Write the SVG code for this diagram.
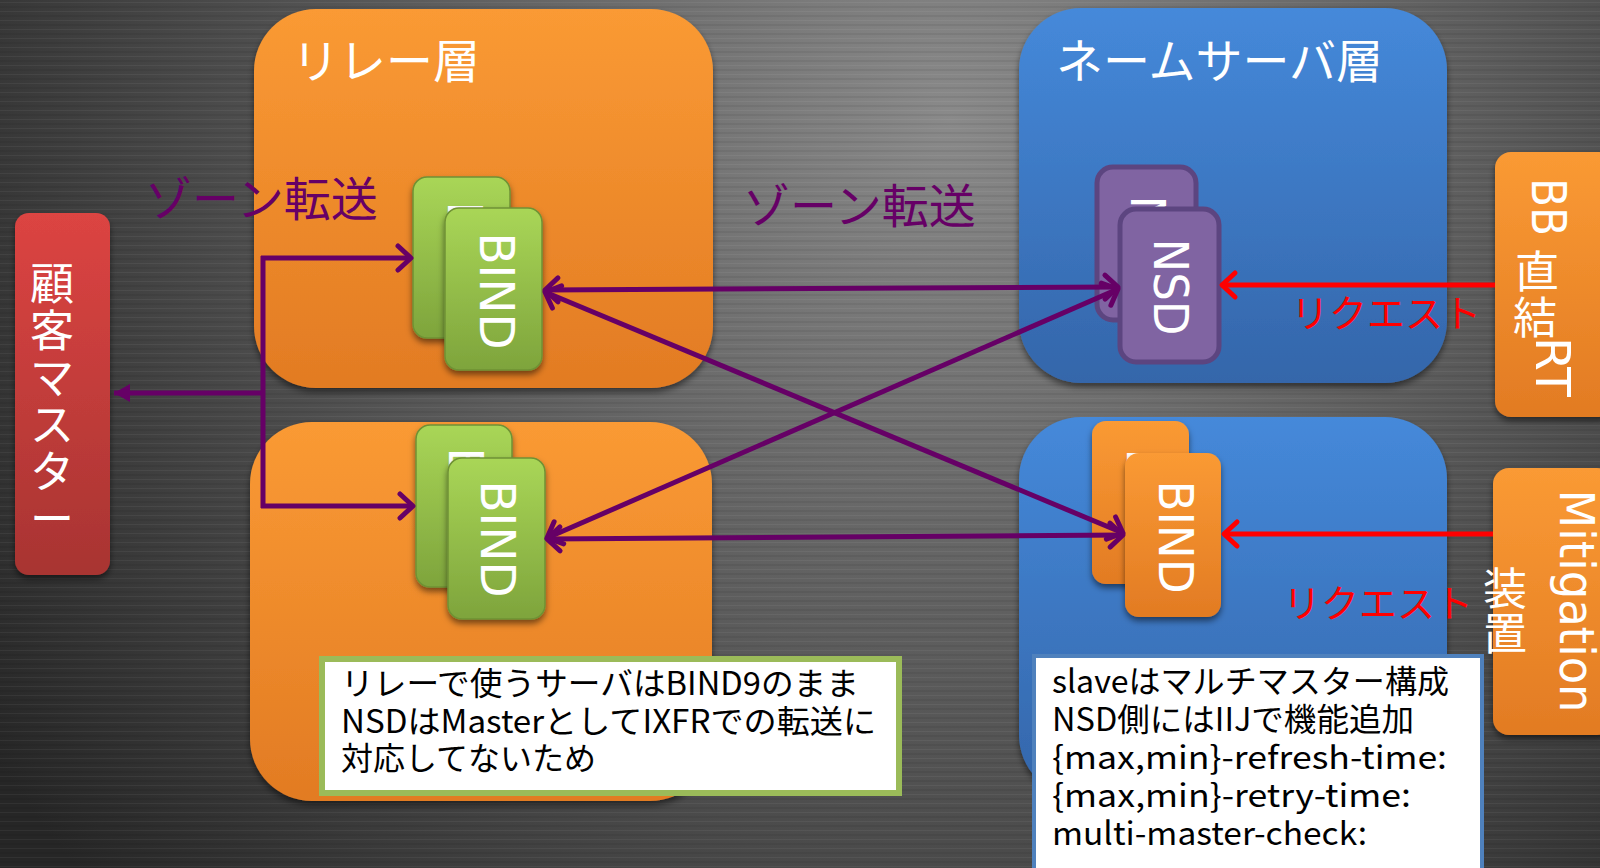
<svg xmlns="http://www.w3.org/2000/svg" width="1600" height="868" viewBox="0 0 1600 868">
<defs>
  <radialGradient id="bg" cx="950" cy="120" r="1150" gradientUnits="userSpaceOnUse">
    <stop offset="0" stop-color="#8a8a8a"/>
    <stop offset="0.45" stop-color="#5e5e5e"/>
    <stop offset="1" stop-color="#262626"/>
  </radialGradient>
  <pattern id="brush" width="400" height="9" patternUnits="userSpaceOnUse">
    <rect x="0" y="2" width="400" height="1" fill="#ffffff" opacity="0.05"/>
    <rect x="0" y="6" width="400" height="2" fill="#000000" opacity="0.06"/>
  </pattern>
  <linearGradient id="orange" x1="0" y1="0" x2="0" y2="1">
    <stop offset="0" stop-color="#fa9a34"/>
    <stop offset="1" stop-color="#e27b23"/>
  </linearGradient>
  <linearGradient id="blue" x1="0" y1="0" x2="0" y2="1">
    <stop offset="0" stop-color="#4589da"/>
    <stop offset="1" stop-color="#3466aa"/>
  </linearGradient>
  <linearGradient id="green" x1="0" y1="0" x2="0" y2="1">
    <stop offset="0" stop-color="#a9d657"/>
    <stop offset="1" stop-color="#7ea43c"/>
  </linearGradient>
  <linearGradient id="red" x1="0" y1="0" x2="0" y2="1">
    <stop offset="0" stop-color="#dc4442"/>
    <stop offset="1" stop-color="#a83432"/>
  </linearGradient>
  <filter id="sh" x="-20%" y="-20%" width="140%" height="140%">
    <feDropShadow dx="0" dy="4" stdDeviation="3" flood-color="#000" flood-opacity="0.5"/>
  </filter>
  <marker id="chevP" viewBox="-20 -16 24 32" markerWidth="24" markerHeight="32" refX="0" refY="0" orient="auto-start-reverse" markerUnits="userSpaceOnUse">
    <path d="M -13 -12 L 0 0 L -13 12" fill="none" stroke="#660066" stroke-width="5" stroke-linecap="round" stroke-linejoin="round"/>
  </marker>
  <marker id="chevR" viewBox="-20 -16 24 32" markerWidth="24" markerHeight="32" refX="0" refY="0" orient="auto-start-reverse" markerUnits="userSpaceOnUse">
    <path d="M -13 -12 L 0 0 L -13 12" fill="none" stroke="#ff0000" stroke-width="5" stroke-linecap="round" stroke-linejoin="round"/>
  </marker>
  <marker id="triP" viewBox="-20 -12 22 24" markerWidth="22" markerHeight="24" refX="0" refY="0" orient="auto" markerUnits="userSpaceOnUse">
    <path d="M -16 -9 L 0 0 L -16 9 Z" fill="#660066"/>
  </marker>
</defs>
<style>
  .jp { font-family: "Noto Sans CJK JP", "Noto Sans", sans-serif; }
  .title { fill: #ffffff; font-size: 47px; }
  .srv { font-family: "DejaVu Sans", "Noto Sans", sans-serif; fill: #ffffff; font-size: 48px; text-anchor: middle; }
  .lbl { fill: #ffffff; font-size: 44px; text-anchor: middle; }
  .zone { fill: #660066; font-size: 47px; }
  .req { fill: #ff0000; font-size: 38px; }
  .note { fill: #000000; font-size: 32px; }
  .conn { fill: none; stroke: #660066; stroke-width: 5; }
  .reqline { fill: none; stroke: #ff0000; stroke-width: 5; }
</style>

<rect width="1600" height="868" fill="url(#bg)"/>
<rect width="1600" height="868" fill="url(#brush)"/>

<g id="relay-layer-top">
  <rect x="254" y="9" width="459" height="379" rx="62" fill="url(#orange)" filter="url(#sh)"/>
  <text class="jp title" x="292" y="78">リレー層</text>
</g>
<g id="relay-layer-bottom">
  <rect x="250" y="422" width="462" height="379" rx="62" fill="url(#orange)" filter="url(#sh)"/>
</g>
<g id="ns-layer-top">
  <rect x="1019" y="8" width="428" height="375" rx="62" fill="url(#blue)" filter="url(#sh)"/>
  <text class="jp title" x="1056" y="78" font-size="48">ネームサーバ層</text>
</g>
<g id="ns-layer-bottom">
  <rect x="1019" y="417" width="428" height="380" rx="62" fill="url(#blue)" filter="url(#sh)"/>
</g>

<g id="customer-master">
  <rect x="15" y="213" width="95" height="362" rx="14" fill="url(#red)" filter="url(#sh)"/>
  <text class="jp lbl" font-size="46" x="52" y="300">顧</text>
  <text class="jp lbl" font-size="46" x="52" y="347">客</text>
  <text class="jp lbl" font-size="46" x="52" y="394">マ</text>
  <text class="jp lbl" font-size="46" x="52" y="441">ス</text>
  <text class="jp lbl" font-size="46" x="52" y="488">タ</text>
  <text class="jp lbl" font-size="46" x="52" y="535">ー</text>
</g>

<g id="bb-rt">
  <rect x="1495" y="152" width="120" height="265" rx="16" fill="url(#orange)" filter="url(#sh)"/>
  <text class="srv" font-size="42" transform="translate(1547,207) rotate(90)" y="15" textLength="58" lengthAdjust="spacingAndGlyphs">BB</text>
  <text class="jp lbl" x="1537" y="288">直</text>
  <text class="jp lbl" x="1535" y="334">結</text>
  <text class="srv" font-size="44" transform="translate(1552,367) rotate(90)" y="16" textLength="60" lengthAdjust="spacingAndGlyphs">RT</text>
</g>

<g id="mitigation">
  <rect x="1493" y="468" width="120" height="267" rx="16" fill="url(#orange)" filter="url(#sh)"/>
  <text class="srv" font-size="43" transform="translate(1575,601) rotate(90)" y="15" textLength="223" lengthAdjust="spacingAndGlyphs">Mitigation</text>
  <text class="jp lbl" x="1505" y="605">装</text>
  <text class="jp lbl" x="1505" y="650">置</text>
</g>

<g id="relay-bind-top">
  <rect x="413" y="177" width="97" height="161" rx="14" fill="url(#green)" stroke="#6f9134" stroke-width="1.5" filter="url(#sh)"/>
  <text class="srv" transform="translate(465,260) rotate(90)" y="17" textLength="117" lengthAdjust="spacingAndGlyphs">BIND</text>
  <rect x="445" y="208" width="97" height="162" rx="14" fill="url(#green)" stroke="#6f9134" stroke-width="1.5" filter="url(#sh)"/>
  <text class="srv" transform="translate(497,291) rotate(90)" y="17" textLength="117" lengthAdjust="spacingAndGlyphs">BIND</text>
</g>

<g id="relay-bind-bottom">
  <rect x="416" y="425" width="96" height="162" rx="14" fill="url(#green)" stroke="#6f9134" stroke-width="1.5" filter="url(#sh)"/>
  <text class="srv" transform="translate(466,506) rotate(90)" y="17" textLength="117" lengthAdjust="spacingAndGlyphs">BIND</text>
  <rect x="448" y="458" width="97" height="161" rx="14" fill="url(#green)" stroke="#6f9134" stroke-width="1.5" filter="url(#sh)"/>
  <text class="srv" transform="translate(498,539) rotate(90)" y="17" textLength="117" lengthAdjust="spacingAndGlyphs">BIND</text>
</g>

<g id="ns-nsd">
  <rect x="1097" y="167" width="99" height="153" rx="16" fill="#8064a2" stroke="#5c4580" stroke-width="5"/>
  <text class="srv" transform="translate(1148,244) rotate(90)" y="17" textLength="97" lengthAdjust="spacingAndGlyphs">NSD</text>
  <rect x="1120" y="209" width="99" height="153" rx="16" fill="#8064a2" stroke="#5c4580" stroke-width="5"/>
  <text class="srv" transform="translate(1171,287) rotate(90)" y="17" textLength="97" lengthAdjust="spacingAndGlyphs">NSD</text>
</g>

<g id="ns-bind">
  <rect x="1092" y="421" width="97" height="163" rx="14" fill="url(#orange)" filter="url(#sh)"/>
  <text class="srv" transform="translate(1144,505) rotate(90)" y="17" textLength="113" lengthAdjust="spacingAndGlyphs">BIND</text>
  <rect x="1125" y="453" width="96" height="164" rx="14" fill="url(#orange)" filter="url(#sh)"/>
  <text class="srv" transform="translate(1176,537) rotate(90)" y="17" textLength="113" lengthAdjust="spacingAndGlyphs">BIND</text>
</g>

<g id="connectors">
  <polyline class="conn" points="263,256 263,508"/>
  <line class="conn" x1="263" y1="393" x2="114" y2="393" marker-end="url(#triP)"/>
  <line class="conn" x1="261" y1="258" x2="411" y2="258" marker-end="url(#chevP)"/>
  <line class="conn" x1="261" y1="506" x2="413" y2="506" marker-end="url(#chevP)"/>
  <line class="conn" x1="545" y1="290" x2="1118" y2="287" marker-start="url(#chevP)" marker-end="url(#chevP)"/>
  <line class="conn" x1="545" y1="292" x2="1123" y2="533" marker-start="url(#chevP)" marker-end="url(#chevP)"/>
  <line class="conn" x1="547" y1="538" x2="1118" y2="289" marker-start="url(#chevP)" marker-end="url(#chevP)"/>
  <line class="conn" x1="547" y1="539" x2="1123" y2="535" marker-start="url(#chevP)" marker-end="url(#chevP)"/>
  <line class="reqline" x1="1495" y1="285" x2="1222" y2="285" marker-end="url(#chevR)"/>
  <line class="reqline" x1="1493" y1="534" x2="1224" y2="534" marker-end="url(#chevR)"/>
</g>

<g id="labels">
  <text class="jp zone" x="145" y="216">ゾーン転送</text>
  <text class="jp zone" x="743" y="223">ゾーン転送</text>
  <text class="jp req" x="1291" y="327">リクエスト</text>
  <text class="jp req" x="1283" y="617">リクエスト</text>
</g>

<g id="note-relay">
  <rect x="322" y="659" width="577" height="134" fill="#ffffff" stroke="#9bbb59" stroke-width="6"/>
  <text class="jp note" x="341" y="695" textLength="518" lengthAdjust="spacingAndGlyphs">リレーで使うサーバはBIND9のまま</text>
  <text class="jp note" x="341" y="733" textLength="535" lengthAdjust="spacingAndGlyphs">NSDはMasterとしてIXFRでの転送に</text>
  <text class="jp note" x="341" y="770" textLength="255" lengthAdjust="spacingAndGlyphs">対応してないため</text>
</g>

<g id="note-ns">
  <rect x="1034" y="656" width="448" height="230" fill="#ffffff" stroke="#4f81bd" stroke-width="4"/>
  <text class="jp note" x="1052" y="693" textLength="397" lengthAdjust="spacingAndGlyphs">slaveはマルチマスター構成</text>
  <text class="jp note" x="1052" y="731" textLength="362" lengthAdjust="spacingAndGlyphs">NSD側にはIIJで機能追加</text>
  <text class="jp note" x="1052" y="769" textLength="395" lengthAdjust="spacingAndGlyphs">{max,min}-refresh-time:</text>
  <text class="jp note" x="1052" y="807" textLength="359" lengthAdjust="spacingAndGlyphs">{max,min}-retry-time:</text>
  <text class="jp note" x="1052" y="845" textLength="315" lengthAdjust="spacingAndGlyphs">multi-master-check:</text>
</g>
</svg>
